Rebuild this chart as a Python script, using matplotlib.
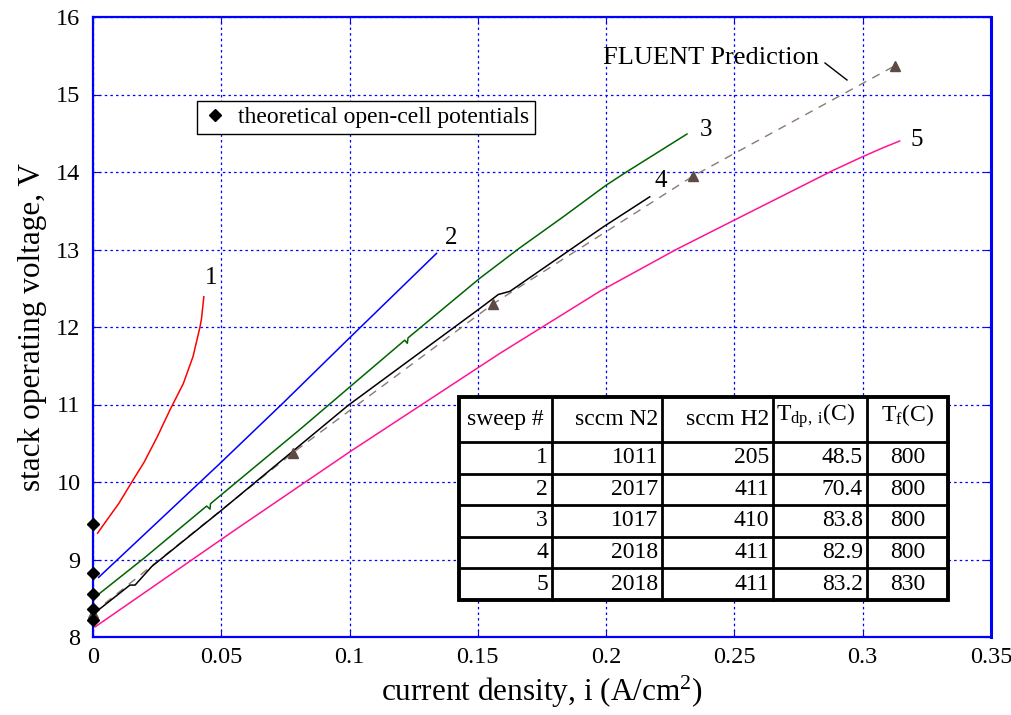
import matplotlib
matplotlib.use("Agg")
import matplotlib.pyplot as plt
from matplotlib.lines import Line2D

plt.rcParams['font.family'] = ['Liberation Serif', 'DejaVu Serif']
plt.rcParams['mathtext.fontset'] = 'custom'
plt.rcParams['mathtext.rm'] = 'Liberation Serif'
plt.rcParams['mathtext.it'] = 'Liberation Serif:italic'

# ---------------- data ----------------
x1 = [0.0018, 0.005, 0.010, 0.0157, 0.020, 0.025, 0.030, 0.0352, 0.039,
      0.0417, 0.0423, 0.0432]
v1 = [9.34, 9.49, 9.72, 10.03, 10.26, 10.58, 10.93, 11.27, 11.62,
      12.00, 12.11, 12.39]

x2 = [0.0022, 0.0495, 0.0741, 0.100, 0.1339]
v2 = [8.77, 10.24, 11.02, 11.86, 12.95]

x3 = [0.0025, 0.020, 0.0443, 0.0456, 0.0458, 0.080, 0.1215, 0.1225, 0.1228,
      0.1508, 0.1663, 0.1832, 0.200, 0.2079, 0.2315]
v3 = [8.56, 9.02, 9.69, 9.65, 9.72, 10.66, 11.83, 11.79, 11.86,
      12.63, 13.02, 13.42, 13.83, 14.00, 14.49]

x4 = [0.0014, 0.0144, 0.0164, 0.0229, 0.0495, 0.0995, 0.1508, 0.158, 0.1625,
      0.1988, 0.217]
v4 = [8.33, 8.67, 8.67, 8.91, 9.62, 10.99, 12.24, 12.42, 12.46, 13.29, 13.68]

x5 = [0.0008, 0.0553, 0.1001, 0.1586, 0.1975, 0.2273, 0.2494, 0.2884, 0.2988,
      0.307, 0.3144]
v5 = [8.13, 9.38, 10.39, 11.66, 12.46, 13.00, 13.37, 14.02, 14.18,
      14.30, 14.40]

x_fluent = [0.0, 0.078, 0.156, 0.234, 0.3125]
v_fluent = [8.31, 10.38, 12.30, 13.95, 15.37]

v_open_cell = [9.46, 8.83, 8.56, 8.36, 8.22]

sweep_labels = ['1', '2', '3', '4', '5']
label_x = [0.0436, 0.137, 0.2365, 0.219, 0.3187]
label_v = [12.63, 13.15, 14.54, 13.88, 14.41]

xticks = [0, 0.05, 0.1, 0.15, 0.2, 0.25, 0.3, 0.35]
xticklabels = ['0', '0.05', '0.1', '0.15', '0.2', '0.25', '0.3', '0.35']
yticks = [8, 9, 10, 11, 12, 13, 14, 15, 16]

table_header = ['sweep #', 'sccm N2', 'sccm H2',
                r'T$_{\rm dp,\ i}$(C)', r'T$_{\rm f}$(C)']
table_sweep = ['1', '2', '3', '4', '5']
table_n2 = ['1011', '2017', '1017', '2018', '2018']
table_h2 = ['205', '411', '410', '411', '411']
table_tdp = ['48.5', '70.4', '83.8', '82.9', '83.2']
table_tf = ['800', '800', '800', '800', '830']

# ---------------- figure ----------------
W, H = 1011, 715
fig = plt.figure(figsize=(W / 100, H / 100), dpi=100)
ax = fig.add_axes([93 / W, 1 - 637 / H, (991 - 93) / W, (637 - 17) / H])
tx = lambda px: px / W
ty = lambda py: 1 - py / H

colors = ['#ff0000', '#0000ff', '#006400', '#000000', '#ff1493']
for xs, vs, c in zip([x1, x2, x3, x4, x5], [v1, v2, v3, v4, v5], colors):
    ax.plot(xs, vs, color=c, lw=1.1, zorder=3)

ax.plot(x_fluent, v_fluent, color='#8a7a74', lw=1.0, ls=(0, (6, 5)), zorder=2)
ax.plot(x_fluent, v_fluent, ls='none', marker='^', ms=7.5, color='#5e4a44',
        zorder=4, clip_on=False)

diam, = ax.plot([0] * len(v_open_cell), v_open_cell, ls='none', marker='D',
                ms=6, color='black', zorder=5, clip_on=False,
                label='theoretical open-cell potentials')

for t, lx, lv in zip(sweep_labels, label_x, label_v):
    ax.text(lx, lv, t, fontsize=18, ha='left', va='center')

ax.set_xlim(0, 0.35)
ax.set_ylim(8, 16)
ax.set_xticks(xticks)
ax.set_xticklabels(xticklabels)
ax.set_yticks(yticks)
ax.tick_params(direction='in', length=5, color='#0000ff', labelsize=17.5,
               right=True, top=True)
ax.tick_params(axis='x', pad=7)
ax.tick_params(axis='y', pad=9)
ax.grid(True, color='#0000ff', ls=(0, (2, 2.5)), lw=0.9)
for s in ax.spines.values():
    s.set_color('#0000ff')
    s.set_linewidth(1.6)
ax.spines['right'].set_linewidth(2.2)

ax.set_xlabel(r'current density, i (A/cm$^2$)', fontsize=22.5)
ax.set_ylabel('stack operating voltage, V', fontsize=22.5)
ax.xaxis.set_label_coords(0.5, -0.06)
ax.yaxis.set_label_coords(-0.051, 0.5)

leg = ax.legend(handles=[diam], loc='upper left',
                bbox_to_anchor=(tx(197), ty(101)),
                bbox_transform=fig.transFigure, fontsize=17,
                fancybox=False, framealpha=1, edgecolor='black',
                handlelength=1.0, handletextpad=0.5, borderpad=0.25,
                borderaxespad=0)
leg.get_frame().set_linewidth(1.0)

# FLUENT annotation
fig.text(tx(603), ty(58), 'FLUENT Prediction', fontsize=19, ha='left',
         va='center')
fig.lines.append(Line2D([tx(825), tx(847)], [ty(63), ty(80)],
                        transform=fig.transFigure, color='black', lw=1.0))

# ---------------- table ----------------
col_edges = [459, 552, 662, 773, 867, 948]
row_edges = [397, 442, 473.5, 505, 536.5, 568, 600]
fig.patches.append(plt.Rectangle((tx(col_edges[0]), ty(row_edges[-1])),
                                 tx(col_edges[-1]) - tx(col_edges[0]),
                                 ty(row_edges[0]) - ty(row_edges[-1]),
                                 transform=fig.transFigure, facecolor='white',
                                 edgecolor='black', lw=2.8, zorder=10))
for cx in col_edges[1:-1]:
    fig.lines.append(Line2D([tx(cx), tx(cx)], [ty(row_edges[0]), ty(row_edges[-1])],
                            transform=fig.transFigure, color='black', lw=2.0, zorder=11))
for ry in row_edges[1:-1]:
    fig.lines.append(Line2D([tx(col_edges[0]), tx(col_edges[-1])], [ty(ry), ty(ry)],
                            transform=fig.transFigure, color='black', lw=2.0, zorder=11))

tfs = 17
hdr_y = (row_edges[0] + row_edges[1]) / 2
fig.text(tx((col_edges[0] + col_edges[1]) / 2), ty(hdr_y), table_header[0],
         ha='center', va='center', fontsize=tfs, zorder=12)
for j in (1, 2):
    fig.text(tx(col_edges[j + 1] - 4), ty(hdr_y), table_header[j],
             ha='right', va='center', fontsize=tfs, zorder=12)
fig.text(tx(col_edges[3] + 3), ty(hdr_y - 4), table_header[3],
         ha='left', va='center', fontsize=tfs, zorder=12)
fig.text(tx((col_edges[4] + col_edges[5]) / 2), ty(hdr_y - 4), table_header[4],
         ha='center', va='center', fontsize=tfs, zorder=12)

cols = [table_sweep, table_n2, table_h2, table_tdp]
for i in range(5):
    yc = (row_edges[i + 1] + row_edges[i + 2]) / 2
    for j, col in enumerate(cols):
        fig.text(tx(col_edges[j + 1] - 4), ty(yc), col[i], ha='right',
                 va='center', fontsize=tfs, zorder=12)
    fig.text(tx((col_edges[4] + col_edges[5]) / 2), ty(yc), table_tf[i],
             ha='center', va='center', fontsize=tfs, zorder=12)

fig.savefig('out.png', dpi=100)
